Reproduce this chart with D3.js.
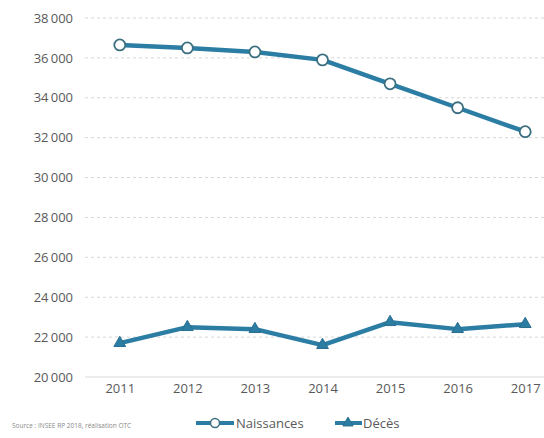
<!DOCTYPE html>
<html>
<head>
<meta charset="utf-8">
<script src="https://cdn.jsdelivr.net/npm/d3@7"></script>
<style>
  html, body { margin: 0; padding: 0; background: #fff; }
  svg { display: block; font-family: "Open Sans", sans-serif; }
</style>
</head>
<body>
<svg id="chart" width="544" height="438"></svg>
<script>
// Births and deaths per year
const years = ["2011", "2012", "2013", "2014", "2015", "2016", "2017"];
const naissances = [36650, 36500, 36300, 35900, 34700, 33500, 32300];
const deces = [21700, 22500, 22400, 21600, 22750, 22400, 22650];
const yTicks = [20000, 22000, 24000, 26000, 28000, 30000, 32000, 34000, 36000, 38000];
const seriesNames = ["Naissances", "Décès"];
const sourceText = "Source : INSEE RP 2018, réalisation OTC";

const svg = d3.select("#chart");
const lineColor = "#2b7da3";
const markerStroke = "#3b6f80";
const textColor = "#595959";

const plotLeft = 86, plotRight = 559, gridLeft = 85;
const x = d3.scalePoint().domain(years).range([plotLeft, plotRight]).padding(0.5);
const y = d3.scaleLinear().domain([20000, 38000]).range([377, 18]);

const fr = d3.formatLocale({ decimal: ",", thousands: "\u2009", grouping: [3], currency: ["", " €"] });
const fmt = fr.format(",d");

// Horizontal gridlines
svg.append("g").selectAll("line").data(yTicks).join("line")
  .attr("x1", gridLeft).attr("x2", 544)
  .attr("y1", d => y(d)).attr("y2", d => y(d))
  .attr("stroke", d => d === 20000 ? "#d9d9d9" : "#d6d6d6")
  .attr("stroke-width", 1)
  .attr("stroke-dasharray", d => d === 20000 ? null : "3,3");

// Y axis labels
const yAxis = d3.axisLeft(y).tickValues(yTicks).tickFormat(fmt).tickSize(0).tickPadding(0);
const gy = svg.append("g").attr("transform", "translate(73,0)").call(yAxis);
gy.select(".domain").remove();
gy.selectAll("text").attr("fill", textColor).style("font-size", "13px").style("font-family", "Open Sans, sans-serif");

// X axis labels
const xAxis = d3.axisBottom(x).tickSize(0).tickPadding(0);
const gx = svg.append("g").attr("transform", "translate(0,384)").call(xAxis);
gx.select(".domain").remove();
gx.selectAll("text").attr("fill", textColor).style("font-size", "13px").style("font-family", "Open Sans, sans-serif");

const line = d3.line().x((d, i) => x(years[i])).y(d => y(d));

// Naissances
svg.append("path").datum(naissances).attr("d", line)
  .attr("fill", "none").attr("stroke", lineColor).attr("stroke-width", 4.5)
  .attr("stroke-linejoin", "round");
svg.append("g").selectAll("circle").data(naissances).join("circle")
  .attr("cx", (d, i) => x(years[i])).attr("cy", d => y(d)).attr("r", 5.5)
  .attr("fill", "#fff").attr("stroke", markerStroke).attr("stroke-width", 1.8);

// Décès
const tri = d3.symbol().type(d3.symbolTriangle).size(60);
svg.append("path").datum(deces).attr("d", line)
  .attr("fill", "none").attr("stroke", lineColor).attr("stroke-width", 4.5)
  .attr("stroke-linejoin", "round");
svg.append("g").selectAll("path").data(deces).join("path")
  .attr("d", tri)
  .attr("transform", (d, i) => `translate(${x(years[i])},${y(d)})`)
  .attr("fill", lineColor).attr("stroke", "#2a6f8f").attr("stroke-width", 1);

// Legend
const leg = svg.append("g").attr("transform", "translate(0,423)");
leg.append("line").attr("x1", 196).attr("x2", 234).attr("y1", 0).attr("y2", 0)
  .attr("stroke", lineColor).attr("stroke-width", 4);
leg.append("circle").attr("cx", 215).attr("cy", 0).attr("r", 4.5)
  .attr("fill", "#fff").attr("stroke", markerStroke).attr("stroke-width", 1.5);
leg.append("text").attr("x", 236).attr("y", 0).attr("dy", "0.35em")
  .attr("fill", textColor).style("font-size", "13px").text(seriesNames[0]);
leg.append("line").attr("x1", 335).attr("x2", 362).attr("y1", 0).attr("y2", 0)
  .attr("stroke", lineColor).attr("stroke-width", 4);
leg.append("path").attr("d", d3.symbol().type(d3.symbolTriangle).size(45)).attr("transform", "translate(348,0)")
  .attr("fill", lineColor).attr("stroke", "#2a6f8f").attr("stroke-width", 1);
leg.append("text").attr("x", 363).attr("y", 0).attr("dy", "0.35em")
  .attr("fill", textColor).style("font-size", "13px").text(seriesNames[1]);

// Source note
svg.append("text").attr("x", 12).attr("y", 428)
  .attr("fill", "#8a8a8a").style("font-size", "6.5px").text(sourceText);
</script>
</body>
</html>
